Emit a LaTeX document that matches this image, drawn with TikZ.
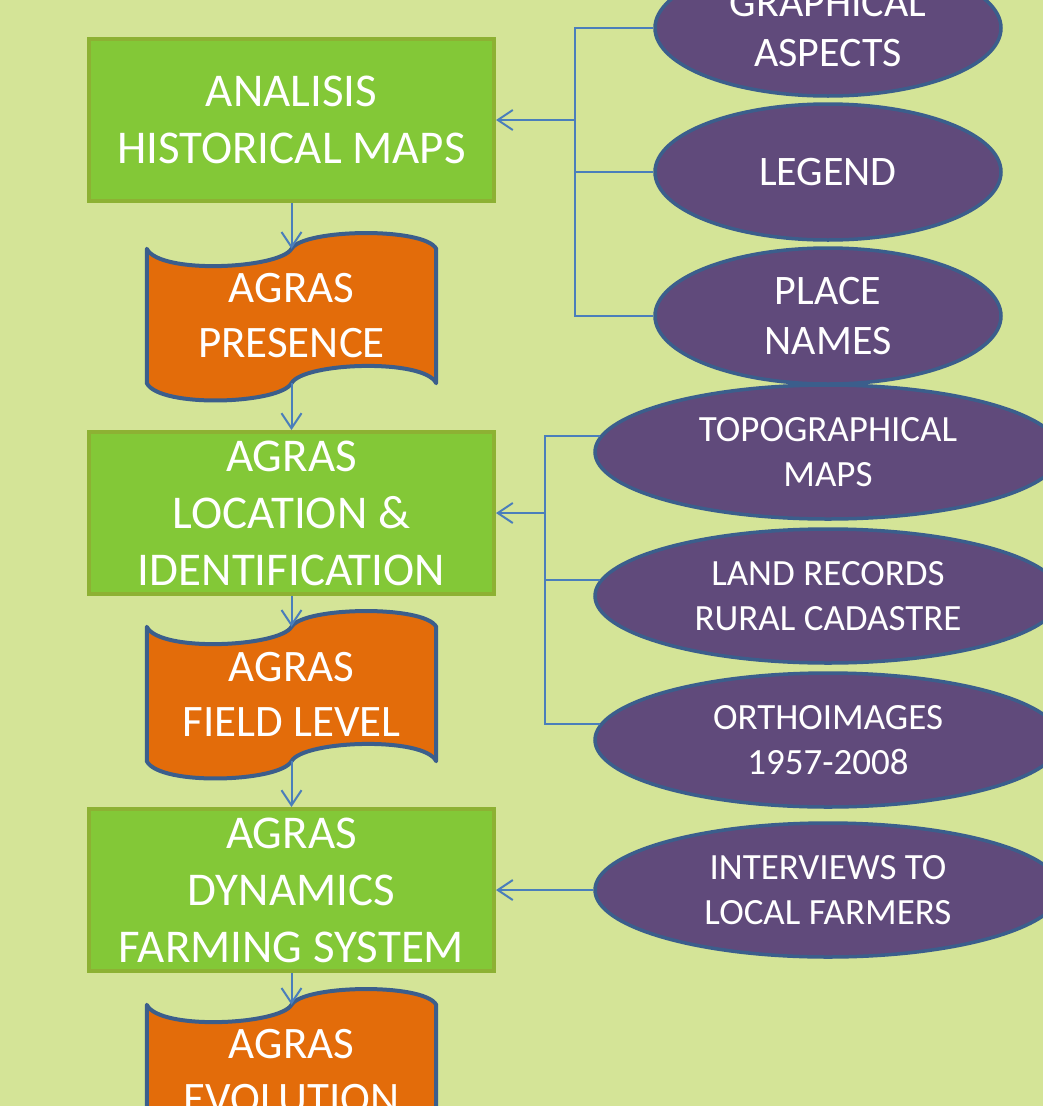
\documentclass[tikz,border=0pt]{standalone}
\usepackage{fontspec}
\setmainfont{Carlito}
\usetikzlibrary{shapes.geometric,arrows.meta}
\definecolor{canvas}{HTML}{D4E497}
\definecolor{boxgreen}{HTML}{83C837}
\definecolor{boxrim}{HTML}{8DB133}
\definecolor{docorange}{HTML}{E36C0A}
\definecolor{docrim}{HTML}{3B5E8C}
\definecolor{ovalpurple}{HTML}{604A7B}
\definecolor{ovalrim}{HTML}{3B5E8C}
\definecolor{linkblue}{HTML}{4A7EBB}
\pgfdeclarelayer{bg}
\pgfsetlayers{bg,main}

\begin{document}
\begin{tikzpicture}[x=1pt,y=-1pt,text=white,align=center,
  stagebox/.style={draw=boxrim,fill=boxgreen,line width=4pt,minimum width=405pt,minimum height=162pt,inner sep=0pt,font=\fontsize{47}{57}\selectfont},
  resultdoc/.style={minimum width=289pt,minimum height=134pt,inner sep=0pt,font=\fontsize{45}{55}\selectfont},
  docline/.style={draw=docrim,fill=docorange,line width=4pt,line join=round},
  sourceoval/.style={ellipse,draw=ovalrim,fill=ovalpurple,line width=3.5pt,minimum width=346pt,minimum height=136pt,inner sep=0pt,font=\fontsize{42}{50}\selectfont},
  widesource/.style={sourceoval,minimum width=466pt,minimum height=134pt,font=\fontsize{37}{45}\selectfont},
  linkline/.style={draw=linkblue,line width=2pt},
  >={Straight Barb[length=15pt,width=20pt]}]
\useasboundingbox (0,0) rectangle (1043,1106);

\node[stagebox]  (HistoricalMaps) at (291.5,120)  {ANALISIS\\HISTORICAL MAPS};
\node[resultdoc] (AgrasPresence)  at (291.5,316)  {AGRAS\\PRESENCE};
\node[stagebox]  (AgrasLocation)  at (291.5,513)  {AGRAS\\LOCATION \&\\IDENTIFICATION};
\node[resultdoc] (AgrasField)     at (291.5,694)  {AGRAS\\FIELD LEVEL};
\node[stagebox]  (AgrasDynamics)  at (291.5,890)  {AGRAS\\DYNAMICS\\FARMING SYSTEM};
\node[resultdoc] (AgrasEvolution) at (291.5,1072) {AGRAS\\EVOLUTION};

\node[sourceoval] (GraphicalAspects) at (828,28)  {GRAPHICAL\\ASPECTS};
\node[sourceoval] (Legend)           at (828,172) {LEGEND};
\node[sourceoval] (PlaceNames)       at (828,316) {PLACE\\NAMES};
\node[widesource] (TopoMaps)         at (828,452) {TOPOGRAPHICAL\\MAPS};
\node[widesource] (LandRecords)      at (828,596) {LAND RECORDS\\RURAL CADASTRE};
\node[widesource] (Orthoimages)      at (828,740) {ORTHOIMAGES\\1957-2008};
\node[widesource] (Interviews)       at (828,890) {INTERVIEWS TO\\LOCAL FARMERS};

\coordinate (MapsHub)  at (575,120);
\coordinate (FieldHub) at (545,513);

\draw[linkline] (GraphicalAspects.west) -| (MapsHub);
\draw[linkline] (Legend.west) -| (MapsHub);
\draw[linkline] (PlaceNames.west) -| (MapsHub);
\draw[linkline,->] (MapsHub) -- (HistoricalMaps.east);

\draw[linkline] (TopoMaps.176) -| (FieldHub);
\draw[linkline] (LandRecords.176) -| (FieldHub);
\draw[linkline] (Orthoimages.176) -| (FieldHub);
\draw[linkline,->] (FieldHub) -- (AgrasLocation.east);

\draw[linkline,->] (Interviews.west) -- (AgrasDynamics.east);

\draw[linkline,->] (HistoricalMaps.south) -- (AgrasPresence.north);
\draw[linkline,->] (AgrasPresence.south) -- (AgrasLocation.north);
\draw[linkline,->] (AgrasLocation.south) -- (AgrasField.north);
\draw[linkline,->] (AgrasField.south) -- (AgrasDynamics.north);
\draw[linkline,->] (AgrasDynamics.south) -- (AgrasEvolution.north);

\begin{pgfonlayer}{bg}
\fill[canvas] (0,0) rectangle (1043,1106);
\foreach \docname in {AgrasPresence,AgrasField,AgrasEvolution}
  \draw[docline] (\docname.north west) .. controls +(13,26) and +(-12,20) .. (\docname.north)
    .. controls +(12,-20) and +(-12,-22) .. (\docname.north east) -- (\docname.south east)
    .. controls +(-12,-25) and +(12,-21) .. (\docname.south)
    .. controls +(-12,21) and +(13,25) .. (\docname.south west) -- cycle;
\end{pgfonlayer}
\end{tikzpicture}
\end{document}
